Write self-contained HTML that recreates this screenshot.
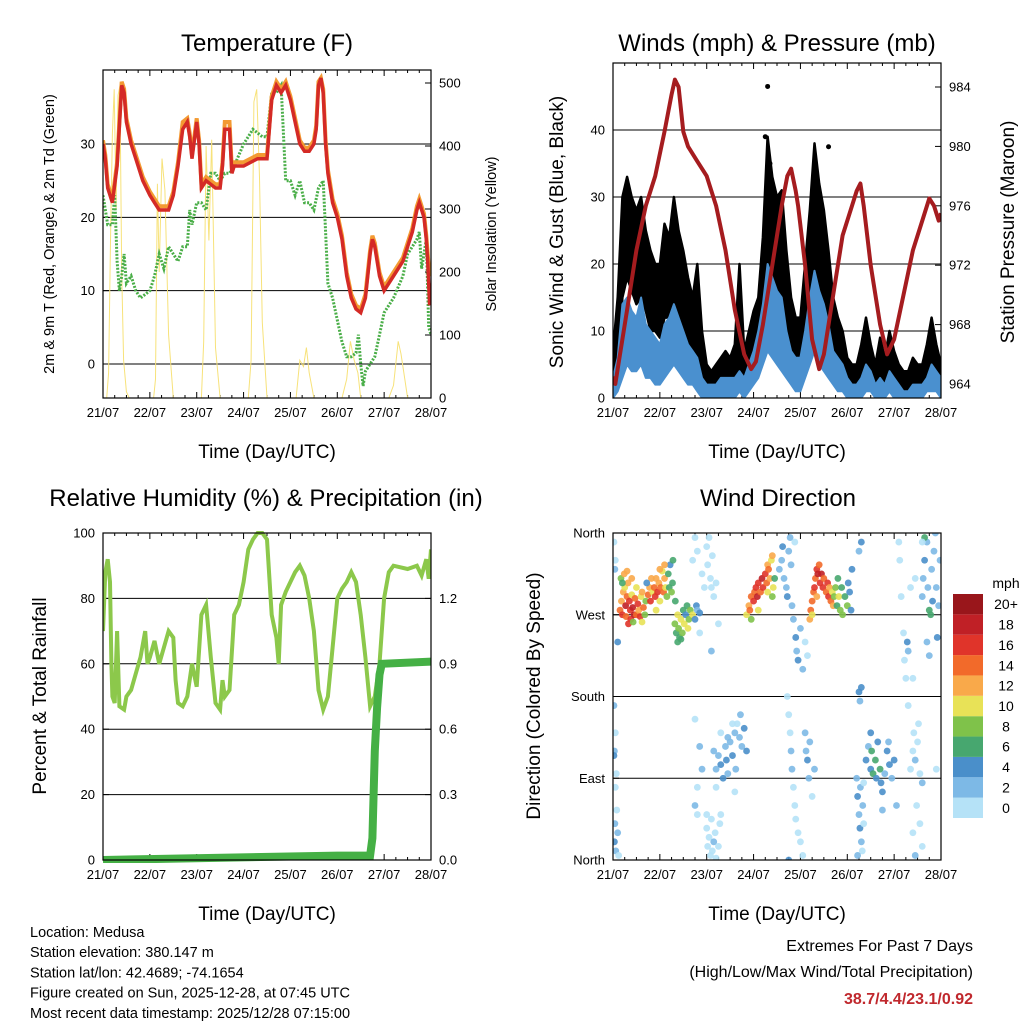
<!DOCTYPE html>
<html><head><meta charset="utf-8"><style>
body{margin:0;background:#fff;}
svg{display:block;font-family:"Liberation Sans",sans-serif;}
</style></head><body>
<svg id="c" width="1024" height="1024" viewBox="0 0 1024 1024"></svg>
<script>
const dayLabels=["21/07","22/07","23/07","24/07","25/07","26/07","27/07","28/07"];
// Temperature panel data (time in days since 21/07 00UTC)
const tT=[0,0.05,0.1,0.2,0.3,0.4,0.45,0.5,0.6,0.7,0.85,1.0,1.1,1.2,1.4,1.5,1.6,1.7,1.8,1.85,1.9,2.0,2.05,2.1,2.2,2.4,2.5,2.55,2.6,2.7,2.75,2.8,3.0,3.3,3.5,3.6,3.7,3.8,3.9,4.0,4.1,4.2,4.3,4.4,4.5,4.55,4.6,4.65,4.7,4.75,4.8,4.9,5.0,5.1,5.2,5.3,5.4,5.5,5.6,5.7,5.75,5.8,5.9,6.0,6.2,6.4,6.5,6.6,6.7,6.75,6.85,6.9,6.93,6.97,7.0];
const temp2m=[30,28,24,22,27,38,37,33,30,28,25,23,22,21,21,23,27,32,33,31,28,33,30,24,25,24,24,27,32,32,26,27,27,28,28,36,38,37,38,36,33,30,29,29,30,32,38,39,37,30,26,22,20,17,12,9,7.5,7,9,15,17,16,12,10,12,14,16,18,21,22,20,17,14,8,11];
const temp9m=[30.5,28.5,24.5,22.5,27.5,38.5,37.5,33.5,30.5,28.5,25.5,23.5,22.5,21.5,21.5,23.5,27.5,33,33.5,31.5,28.5,33.5,30.5,24.5,25.5,24.5,24.5,27.5,33,33,26.5,27.5,27.5,28.5,28.5,36.5,38.5,37.5,38.5,36.5,33.5,30.5,29.5,29.5,30.5,32.5,38.5,39,37.5,30.5,26.5,22.5,20.5,17.5,12.5,9.5,8,7.5,9.5,15.5,17.5,16.5,12.5,10.5,12.5,14.5,16.5,18.5,21.5,22.5,20.5,17.5,15,12,13];
const tD=[0,0.1,0.2,0.25,0.3,0.35,0.4,0.45,0.5,0.6,0.7,0.8,1.0,1.1,1.2,1.3,1.4,1.5,1.6,1.7,1.8,1.85,1.9,2.0,2.1,2.2,2.3,2.4,2.5,2.6,2.7,2.8,3.0,3.1,3.2,3.4,3.5,3.6,3.7,3.8,3.9,4.0,4.1,4.2,4.3,4.4,4.5,4.6,4.7,4.75,4.8,4.9,5.0,5.1,5.2,5.3,5.4,5.45,5.5,5.55,5.6,5.7,5.8,5.9,6.0,6.2,6.4,6.5,6.6,6.7,6.75,6.8,6.9,6.95,7.0];
const dewpt=[23,19,19,23,14,10,12,15,11,12,10,9,10,12,15,13,16,15,14,16,16,21,19,22,22,21,26,26,25,26,26,27,30,31,32,31,31,37,37,38,25,25,23,25,22,22,21,24,25,18,11,9,6,3,1,1,1.5,4,0,-3,-1,0,1,4,7,9,12,15,16,17,18,13,17,5,4];
const tSol=[0,0.08,0.12,0.16,0.2,0.24,0.28,0.32,0.36,0.4,0.44,0.5,0.56,1.0,1.08,1.12,1.16,1.2,1.26,1.32,1.4,1.5,2.0,2.1,2.15,2.2,2.26,2.32,2.4,2.5,3.0,3.1,3.16,3.22,3.28,3.34,3.4,3.5,4.0,4.12,4.2,4.28,4.34,4.4,4.5,5.0,5.1,5.2,5.28,5.36,5.44,5.5,6.0,6.1,6.2,6.3,6.36,6.44,6.5,7.0];
const solar=[0,0,40,250,420,490,300,480,495,200,60,10,0,0,0,30,340,200,380,330,100,0,0,0,90,400,250,410,80,0,0,0,60,470,490,350,120,0,0,0,60,50,80,40,0,0,0,30,90,60,40,0,0,0,20,90,70,30,0,0];
// Winds & pressure
const tP=[0,0.05,0.15,0.3,0.5,0.7,0.9,1.1,1.25,1.32,1.4,1.5,1.6,1.8,2.0,2.2,2.4,2.6,2.8,2.95,3.05,3.2,3.4,3.6,3.72,3.8,3.9,3.95,4.1,4.25,4.4,4.5,4.7,4.9,5.1,5.2,5.28,5.35,5.5,5.7,5.85,6.0,6.2,6.4,6.6,6.75,6.85,6.95,7.0];
const pressure=[964.5,964,966,969,973,976,978,981,983.5,984.5,984,981,980,979,978,976,973,969,966,965,965.5,968,972,976,978,978.5,977,976,972,967,965,966,970,974,976,977,977.5,976,972,968,966,967,970,973,975,976.5,976,975,975.5];
const gustHi=[7,15,30,33,30,28,30,25,22,20,20,26,24,30,25,22,18,15,20,10,5,4,5,6,7,6,8,20,7,10,13,15,24,39,33,30,31,22,15,12,12,20,28,38,32,28,22,15,12,10,6,5,5,8,12,8,5,9,6,10,7,5,4,4,6,5,5,8,12,8,5];
const gustLo=[2,6,15,18,16,14,15,13,10,10,9,12,12,14,12,10,8,6,5,2,1,1,1,2,2,2,2,3,2,4,6,8,12,16,18,16,12,8,6,5,5,8,14,18,17,14,10,6,5,4,2,1,1,2,4,3,1,2,1,3,2,1,0,0,1,1,1,2,3,2,1];
const windHi=[3,6,14,15,13,12,15,11,10,9,8,11,12,14,12,10,8,7,6,3,2,2,2,3,3,3,3,4,3,5,7,10,14,20,18,16,15,10,7,6,6,10,15,19,16,14,11,7,6,5,3,2,2,3,5,4,2,3,2,4,3,2,1,1,2,2,2,3,5,4,3];
const windLo=[0,1,3,5,4,4,5,3,3,2,2,3,4,5,4,3,2,2,1,0,0,0,0,0,0,0,0,1,0,1,2,3,5,7,6,5,4,3,2,1,1,3,5,7,5,4,3,2,1,1,0,0,0,0,1,1,0,0,0,1,0,0,0,0,0,0,0,1,1,1,0];
const gustOutliers=[[3.3,46.5],[3.25,39],[4.6,37.5],[3.35,35]];
// RH & precip
const tRH=[0,0.05,0.1,0.15,0.18,0.2,0.25,0.3,0.35,0.45,0.5,0.6,0.7,0.8,0.9,0.95,1.0,1.1,1.2,1.3,1.4,1.5,1.55,1.6,1.7,1.8,1.9,2.0,2.1,2.2,2.3,2.4,2.5,2.55,2.6,2.7,2.8,2.9,3.0,3.1,3.2,3.3,3.4,3.5,3.6,3.7,3.75,3.8,3.9,4.0,4.1,4.2,4.3,4.4,4.5,4.6,4.7,4.8,4.9,5.0,5.1,5.2,5.3,5.4,5.5,5.6,5.7,5.8,5.9,6.0,6.1,6.2,6.5,6.7,6.8,6.9,6.95,7.0];
const rh=[70,88,92,85,60,50,48,70,47,46,50,52,57,62,70,60,62,67,60,65,70,68,55,48,47,50,60,53,75,78,62,48,46,55,50,52,75,78,85,95,98,100,100,98,75,68,60,78,82,85,88,90,87,80,70,52,46,50,65,80,83,85,88,85,75,62,47,50,60,80,88,90,89,90,87,92,86,95];
const tPr=[0,5.0,5.7,5.75,5.8,5.85,5.9,5.95,7.0];
const precip=[0,0.02,0.02,0.1,0.5,0.7,0.85,0.9,0.91];
// Wind direction observations: [time (days), direction (deg), speed (mph)]
const dirObs=[
[0.02,170,2],[0.03,120,3],[0.02,115,4],[0.05,80,1],[0.04,40,3],[0.03,20,4],[0.06,10,2],[0.08,55,1],[0.1,30,2],[0.12,5,1],[0.07,95,1],[0.05,140,1],[0.02,350,1],[0.05,330,1],[0.04,320,3],[0.1,240,4],
[0.15,275,14],[0.18,285,12],[0.2,270,16],[0.22,295,13],[0.25,300,10],[0.27,280,18],[0.28,268,15],[0.3,290,14],[0.32,305,12],[0.35,285,16],[0.37,275,17],[0.38,265,16],[0.4,292,11],[0.42,278,18],[0.45,270,19],[0.47,288,14],[0.5,300,10],[0.5,270,15],[0.53,282,17],[0.55,275,13],[0.58,268,16],[0.6,290,10],[0.62,295,12],[0.65,278,15],[0.68,270,9],[0.7,285,8],[0.17,310,8],[0.2,305,7],[0.24,315,13],[0.33,260,17],[0.43,262,9],[0.62,262,11],[0.75,292,14],[0.78,300,13],[0.8,285,16],[0.82,310,12],[0.85,295,10],[0.72,305,5],[0.4,310,13],[0.3,318,12],
[0.88,300,14],[0.9,290,16],[0.92,310,13],[0.95,295,17],[0.98,305,12],[1.0,285,10],[1.02,300,15],[1.05,318,11],[1.08,295,14],[1.1,310,12],[1.12,300,10],[1.15,290,9],[1.18,315,7],[1.2,300,6],[1.22,325,5],[1.25,295,8],[1.27,305,6],[1.28,330,7],[1.0,320,12],[1.1,325,13],[0.92,275,10],
[1.32,260,8],[1.35,250,6],[1.38,270,10],[1.4,255,9],[1.42,245,7],[1.45,265,10],[1.48,250,8],[1.5,275,6],[1.52,260,10],[1.55,270,4],[1.58,280,6],[1.6,255,10],[1.62,265,8],[1.65,275,9],[1.7,270,10],[1.75,265,4],[1.78,280,5],[1.8,275,3],[1.85,272,4],[1.38,240,7],[1.45,243,6],[1.33,285,7],
[1.7,330,1],[1.75,355,1],[1.8,340,0],[1.85,250,1],[1.9,315,1],[1.95,300,0],[2.0,345,1],[2.02,325,1],[2.05,355,1],[2.08,310,1],[2.1,300,0],[2.12,335,1],[2.15,290,1],[2.2,305,1],[2.25,260,1],[1.75,155,1],[1.85,125,3],[1.9,100,2],[1.8,80,1],[1.75,60,3],[1.8,50,1],[2.0,50,1],[2.1,230,3],
[2.0,35,1],[2.02,15,1],[2.05,25,1],[2.08,5,1],[2.1,45,1],[2.12,10,1],[2.15,20,3],[2.18,30,1],[2.2,2,1],[2.25,15,1],[2.28,40,1],[2.3,50,1],
[2.15,120,3],[2.2,100,2],[2.25,115,3],[2.3,105,4],[2.35,90,4],[2.4,125,3],[2.42,110,4],[2.45,95,2],[2.5,130,3],[2.55,115,4],[2.6,140,3],[2.62,100,3],[2.65,150,1],[2.7,135,3],[2.72,160,2],[2.75,125,3],[2.8,145,4],[2.85,120,4],[2.3,140,1],[2.45,135,2],[2.55,150,1],[2.2,80,1],[2.6,75,1],
[2.85,270,10],[2.9,280,12],[2.92,275,14],[2.95,290,15],[3.0,285,16],[3.02,295,14],[3.05,300,17],[3.08,290,18],[3.1,305,16],[3.15,295,15],[3.18,310,18],[3.2,300,17],[3.25,315,16],[3.28,305,14],[3.3,325,13],[3.32,320,15],[3.35,310,12],[3.38,330,11],[3.4,335,12],[3.42,300,10],[2.95,265,8],[3.1,275,10],[3.3,295,10],[3.4,290,9],[3.45,310,6],
[3.55,320,3],[3.6,330,3],[3.62,345,4],[3.65,310,3],[3.7,300,3],[3.72,290,4],[3.75,340,2],[3.78,355,3],[3.8,325,2],[3.82,280,3],[3.85,265,2],[3.88,350,1],
[3.72,180,1],[3.75,160,1],[3.78,140,1],[3.8,120,3],[3.82,100,3],[3.85,80,1],[3.88,60,1],[3.9,45,1],[3.95,30,1],[4.0,20,1],[4.05,5,1],[4.1,140,3],[4.12,120,3],[4.15,110,4],[4.18,90,3],[4.2,130,2],[4.25,70,1],[4.3,100,3],[3.75,0,4],
[3.9,245,4],[3.92,230,3],[3.95,220,4],[4.0,255,3],[4.05,210,3],[4.1,240,1],[4.15,225,1],
[4.2,265,12],[4.22,275,14],[4.25,285,15],[4.28,295,14],[4.3,300,17],[4.32,310,15],[4.35,320,16],[4.37,315,18],[4.4,325,14],[4.42,305,17],[4.45,315,18],[4.48,300,16],[4.5,310,15],[4.55,295,14],[4.58,305,17],[4.6,290,16],[4.62,300,12],[4.65,285,14],[4.68,295,10],[4.7,280,12],[4.72,290,9],[4.35,290,13],[4.25,270,10],
[4.75,300,8],[4.78,280,6],[4.8,310,7],[4.82,290,10],[4.85,275,8],[4.88,300,6],[4.9,270,9],[4.95,290,7],[5.0,280,8],[5.02,305,4],[5.05,295,5],[5.08,275,4],[5.1,320,4],
[5.2,90,3],[5.22,70,4],[5.25,50,3],[5.27,35,4],[5.3,20,3],[5.32,10,1],[5.28,80,2],[5.33,60,3],[5.25,185,4],[5.27,175,3],[5.3,190,4],[5.22,5,3],[5.35,85,1],[5.35,40,1],[5.3,350,4],[5.25,340,3],
[5.4,110,4],[5.45,125,3],[5.5,100,5],[5.52,120,6],[5.55,95,7],[5.6,110,6],[5.62,90,4],[5.65,130,4],[5.7,100,6],[5.72,85,4],[5.75,75,4],[5.8,95,3],[5.85,120,4],[5.88,130,3],[5.9,105,4],[5.95,90,3],[6.0,110,4],[6.05,60,3],[5.75,55,3],[5.5,140,4],
[6.1,350,1],[6.12,330,1],[6.15,290,1],[6.2,250,1],[6.22,220,1],[6.25,200,1],[6.3,170,1],[6.28,240,4],[6.3,230,3],[6.35,300,1],[6.4,200,1],[6.45,310,1],
[6.35,100,1],[6.4,120,1],[6.42,140,1],[6.45,110,2],[6.5,130,1],[6.52,150,1],[6.55,95,1],[6.6,85,3],[6.48,60,1],[6.55,40,1],[6.6,15,1],[6.4,30,1],[6.45,5,3],
[6.6,290,3],[6.62,310,3],[6.65,330,4],[6.7,350,3],[6.72,300,2],[6.75,275,7],[6.78,270,6],[6.8,320,3],[6.82,285,4],[6.85,340,2],[6.88,360,3],[6.9,300,2],[6.92,245,4],[6.95,280,2],[6.98,330,3],[6.7,240,3],[6.75,225,3],[6.65,355,7],[6.6,350,1],[6.9,100,1]
];
const speedColors=["#b5e2f7","#7db9e6","#4a8fca","#47a76f","#7fc24a","#e8e257","#f9a94a","#f26a2a","#e0342a","#c02026","#99161b"];
const speedLabels=["0","2","4","6","8","10","12","14","16","18","20+"];

const NS="http://www.w3.org/2000/svg";
const svg=document.getElementById('c');
function mk(tag,attrs,parent){const e=document.createElementNS(NS,tag);for(const k in attrs)e.setAttribute(k,attrs[k]);(parent||svg).appendChild(e);return e;}
function txt(s,x,y,size,anchor,parent,extra){const e=mk('text',Object.assign({x:x,y:y,'font-size':size,'text-anchor':anchor||'middle',fill:'#000'},extra||{}),parent);e.textContent=s;return e;}
function lin(d0,d1,r0,r1){return v=>r0+(v-d0)/(d1-d0)*(r1-r0);}
function path(xs,ys,fx,fy){let d='';for(let i=0;i<xs.length;i++)d+=(i?'L':'M')+fx(xs[i]).toFixed(1)+','+fy(ys[i]).toFixed(1);return d;}

function frame(name){
  const g=mk('g',{},svg);
  
  
  return g;
}
function box(g,x0,y0,x1,y1){const r=mk('rect',{x:x0,y:y0,width:x1-x0,height:y1-y0,fill:'none',stroke:'#000','stroke-width':1.2},g);}
function xAxis(g,x0,x1,y0,y1){
  const fx=lin(0,7,x0,x1);
  dayLabels.forEach((l,i)=>{const x=fx(i);mk('line',{x1:x,x2:x,y1:y1,y2:y1-6,stroke:'#000'},g);mk('line',{x1:x,x2:x,y1:y0,y2:y0+6,stroke:'#000'},g);
    const t=txt(l,x,y1+19,13,'middle',g);
    if(i<7){for(let h=1;h<4;h++){const xm=fx(i+h/4);mk('line',{x1:xm,x2:xm,y1:y1,y2:y1-3,stroke:'#000'},g);mk('line',{x1:xm,x2:xm,y1:y0,y2:y0+3,stroke:'#000'},g);}}});
  const t=txt('Time (Day/UTC)',(x0+x1)/2,y1+60,19,'middle',g);
  return fx;
}
function yTicks(g,vals,labels,fy,x,side,grid,x0,x1){vals.forEach((v,i)=>{const y=fy(v);
  if(grid)mk('line',{x1:x0,x2:x1,y1:y,y2:y,stroke:'#000','stroke-width':1},g);
  mk('line',{x1:x,x2:x+(side<0?6:-6),y1:y,y2:y,stroke:'#000'},g);
  const t=txt(labels[i],side<0?x-8:x+8,y+4.5,13,side<0?'end':'start',g);});}
function rotTitle(g,s,x,y,size,name){const t=txt(s,x,y,size,'middle',g,{transform:`rotate(-90 ${x} ${y})`});}
function title(g,s,x,y){const t=txt(s,x,y,24,'middle',g);}

// Panel 1: temperature
(function(){
  const X0=103,X1=431,Y0=70,Y1=398;
  const g=frame('temperature-panel');
  const fy=lin(0,30,364,144), fs=lin(0,500,398,83);
  const fx=xAxis(g,X0,X1,Y0,Y1);
  yTicks(g,[0,10,20,30],["0","10","20","30"],fy,X0,-1,true,X0,X1);
  yTicks(g,[0,100,200,300,400,500],["0","100","200","300","400","500"],fs,X1,1,false);
  const cp=mk('clipPath',{id:'cp1'},g);mk('rect',{x:X0,y:Y0,width:X1-X0,height:Y1-Y0},cp);
  const pg=mk('g',{'clip-path':'url(#cp1)'},g);
  const sl=mk('path',{d:path(tSol,solar,fx,fs),fill:'none',stroke:'#f7e27a','stroke-width':1},pg);
  const dl=mk('path',{d:path(tD,dewpt,fx,fy),fill:'none',stroke:'#4aae48','stroke-width':3,'stroke-dasharray':'2 1.5'},pg);
  const o=mk('path',{d:path(tT,temp9m,fx,fy),fill:'none',stroke:'#f39a32','stroke-width':4},pg);
  const r=mk('path',{d:path(tT,temp2m,fx,fy),fill:'none',stroke:'#d42a26','stroke-width':3.5},pg);
  box(g,X0,Y0,X1,Y1);
  title(g,'Temperature (F)',267,51);
  rotTitle(g,'2m & 9m T (Red, Orange) & 2m Td (Green)',54,234,14.5,'y-axis-title-left');
  rotTitle(g,'Solar Insolation (Yellow)',496,234,14.5,'y-axis-title-right');
})();

// Panel 2: winds & pressure
(function(){
  const X0=613,X1=941,Y0=63,Y1=398;
  const g=frame('winds-panel');
  const fy=lin(0,40,398,130), fp=lin(964,984,384,87);
  const fx=xAxis(g,X0,X1,Y0,Y1);
  yTicks(g,[0,10,20,30,40],["0","10","20","30","40"],fy,X0,-1,true,X0,X1);
  yTicks(g,[964,968,972,976,980,984],["964","968","972","976","980","984"],fp,X1,1,false);
  const cp=mk('clipPath',{id:'cp2'},g);mk('rect',{x:X0,y:Y0,width:X1-X0,height:Y1-Y0},cp);
  const pg=mk('g',{'clip-path':'url(#cp2)'},g);
  const tt=gustHi.map((_,i)=>i*0.1);
  let d=path(tt,gustHi,fx,fy)+path(tt.slice().reverse(),gustLo.slice().reverse(),fx,fy).replace('M','L')+'Z';
  const gb=mk('path',{d:d,fill:'#000',stroke:'#000','stroke-width':2.5,'stroke-linejoin':'round'},pg);
  gustOutliers.forEach(p=>{const c=mk('circle',{cx:fx(p[0]),cy:fy(p[1]),r:2.5,fill:'#000'},pg);});
  d=path(tt,windHi,fx,fy)+path(tt.slice().reverse(),windLo.slice().reverse(),fx,fy).replace('M','L')+'Z';
  const wb=mk('path',{d:d,fill:'#4a90cf',stroke:'#4a90cf','stroke-width':2,'stroke-linejoin':'round'},pg);
  const pl=mk('path',{d:path(tP,pressure,fx,fp),fill:'none',stroke:'#a51c1f','stroke-width':4,'stroke-linejoin':'round'},pg);
  box(g,X0,Y0,X1,Y1);
  title(g,'Winds (mph) & Pressure (mb)',777,51);
  rotTitle(g,'Sonic Wind & Gust (Blue, Black)',563,232,19,'y-axis-title-left');
  rotTitle(g,'Station Pressure (Maroon)',1014,232,19,'y-axis-title-right');
})();

// Panel 3: RH & precip
(function(){
  const X0=103,X1=431,Y0=533,Y1=860;
  const g=frame('humidity-panel');
  const fy=lin(0,100,860,533), fr=lin(0,1.5,860,533);
  const fx=xAxis(g,X0,X1,Y0,Y1);
  yTicks(g,[0,20,40,60,80,100],["0","20","40","60","80","100"],fy,X0,-1,true,X0,X1);
  yTicks(g,[0,0.3,0.6,0.9,1.2],["0.0","0.3","0.6","0.9","1.2"],fr,X1,1,false);
  const cp=mk('clipPath',{id:'cp3'},g);mk('rect',{x:X0,y:Y0-3,width:X1-X0,height:Y1-Y0+6},cp);
  const pg=mk('g',{'clip-path':'url(#cp3)'},g);
  const r=mk('path',{d:path(tRH,rh,fx,fy),fill:'none',stroke:'#8cc84b','stroke-width':4},pg);
  const p=mk('path',{d:path(tPr,precip,fx,fr),fill:'none',stroke:'#45b045','stroke-width':8},pg);
  box(g,X0,Y0,X1,Y1);
  title(g,'Relative Humidity (%) & Precipitation (in)',266,506);
  rotTitle(g,'Percent & Total Rainfall',46,696,19,'y-axis-title-left');
})();

// Panel 4: wind direction
(function(){
  const X0=613,X1=941,Y0=533,Y1=860;
  const g=frame('wind-direction-panel');
  const fy=lin(0,360,860,533);
  const fx=xAxis(g,X0,X1,Y0,Y1);
  yTicks(g,[0,90,180,270,360],["North","East","South","West","North"],fy,X0,-1,true,X0,X1);
  const cp=mk('clipPath',{id:'cp4'},g);mk('rect',{x:X0,y:Y0,width:X1-X0,height:Y1-Y0},cp);
  const pg=mk('g',{'clip-path':'url(#cp4)'},g);
  dirObs.forEach(o=>{const c=mk('circle',{cx:fx(o[0]),cy:fy(o[1]),r:3.4,fill:speedColors[Math.min(10,Math.floor(o[2]/2))],'fill-opacity':0.9},pg);
    
    });
  box(g,X0,Y0,X1,Y1);
  title(g,'Wind Direction',778,506);
  rotTitle(g,'Direction (Colored By Speed)',540,696,19,'y-axis-title-left');
  const lg=mk('g',{},svg);
  
  
  txt('mph',1006,588,14,'middle',lg);
  const bh=(818-594)/11;
  speedColors.forEach((c,i)=>{const y=818-(i+1)*bh;mk('rect',{x:953,y:y,width:30,height:bh,fill:c},lg);
    const t=txt(speedLabels[i],1006,y+bh/2+5,14,'middle',lg);});
})();

// Footer text
const info=["Location: Medusa","Station elevation: 380.147 m","Station lat/lon: 42.4689; -74.1654","Figure created on Sun, 2025-12-28, at 07:45 UTC","Most recent data timestamp: 2025/12/28 07:15:00"];
info.forEach((s,i)=>{const t=txt(s,30,937+i*20.2,14.5,'start');});
let e=txt('Extremes For Past 7 Days',973,951,16,'end');
e=txt('(High/Low/Max Wind/Total Precipitation)',973,977,16,'end');
e=txt('38.7/4.4/23.1/0.92',973,1004,16,'end',svg,{fill:'#c0282d','font-weight':'bold'});
</script>
</body></html>
